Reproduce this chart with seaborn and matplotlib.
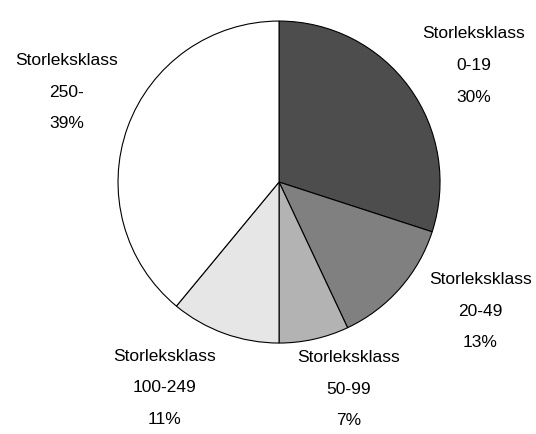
import matplotlib
matplotlib.use('Agg')
import matplotlib.pyplot as plt
import seaborn as sns

# Slice data (clockwise from 12 o'clock)
classes = ['0-19', '20-49', '50-99', '100-249', '250-']
shares = [30, 13, 7, 11, 39]
colors = ['#4d4d4d', '#808080', '#b3b3b3', '#e6e6e6', '#ffffff']

# Label placement (data units, pie radius = 1)
label_x = [1.21, 1.25, 0.43, -0.71, -1.32]
label_y = [0.73, -0.795, -1.28, -1.273, 0.565]

sns.set_style('white')
plt.rcParams['font.family'] = ['Liberation Sans Narrow', 'Liberation Sans', 'DejaVu Sans']

fig = plt.figure(figsize=(5.36, 4.35), dpi=100)
ax = fig.add_axes([0, 0, 1, 1])
ax.pie(shares, colors=colors, startangle=90, counterclock=False,
       wedgeprops={'edgecolor': 'black', 'linewidth': 0.8})
for c, s, x, y in zip(classes, shares, label_x, label_y):
    ax.text(x, y, f'Storleksklass\n{c}\n{s}%', ha='center', va='center',
            fontsize=12.5, linespacing=2.4, color='black')
ax.set_xlim(-1.733, 1.596)
ax.set_ylim(-1.565, 1.137)
ax.set_aspect('auto')
ax.axis('off')
fig.savefig('out.png', dpi=100, facecolor='white')
